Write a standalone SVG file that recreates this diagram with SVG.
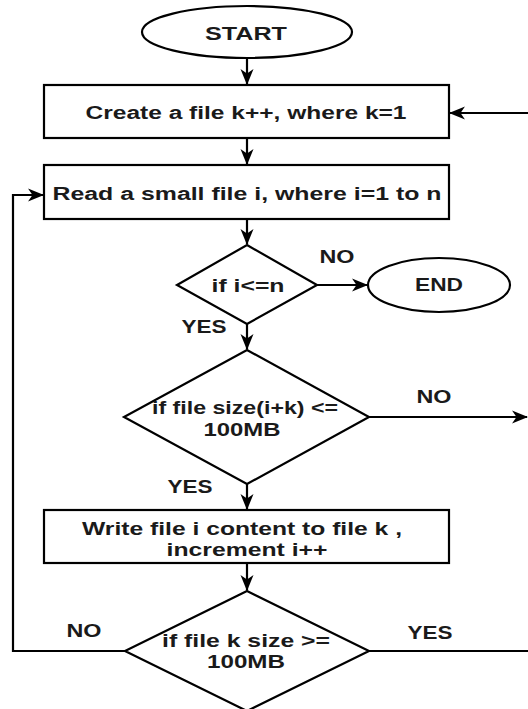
<svg xmlns="http://www.w3.org/2000/svg" width="528" height="709" viewBox="0 0 528 709">
<style>
.shape{fill:#fff;stroke:#000;stroke-width:2.2}
.edge{fill:none;stroke:#000;stroke-width:2.2}
text{font-family:"Liberation Sans",Arial,sans-serif;font-weight:bold;font-size:18px;fill:#1a1a1a;text-anchor:middle}
</style>
<defs>
<marker id="arr" markerUnits="userSpaceOnUse" markerWidth="16" markerHeight="16" viewBox="0 0 16 16" refX="15" refY="8" orient="auto">
<path d="M0,1.5 L16,8 L0,14.5 L4.5,8 z" fill="#000"/>
</marker>
</defs>
<rect width="528" height="709" fill="#fff"/>
<g id="connectors">
<path class="edge" d="M247,58 V84" marker-end="url(#arr)"/>
<path class="edge" d="M247,138 V164" marker-end="url(#arr)"/>
<path class="edge" d="M247,219 V244" marker-end="url(#arr)"/>
<path class="edge" d="M317,285 H367" marker-end="url(#arr)"/>
<path class="edge" d="M247,324 V349" marker-end="url(#arr)"/>
<path class="edge" d="M369,417 H527" marker-end="url(#arr)"/>
<path class="edge" d="M247,484 V509" marker-end="url(#arr)"/>
<path class="edge" d="M247,563 V590" marker-end="url(#arr)"/>
<path class="edge" d="M125,651 H13 V195 H43" marker-end="url(#arr)"/>
<path class="edge" d="M369,651 H530"/>
<path class="edge" d="M530,113 H450" marker-end="url(#arr)"/>
<text x="337" y="263" textLength="35" lengthAdjust="spacingAndGlyphs">NO</text>
<text x="204" y="333" textLength="45" lengthAdjust="spacingAndGlyphs">YES</text>
<text x="434" y="403" textLength="35" lengthAdjust="spacingAndGlyphs">NO</text>
<text x="190" y="493" textLength="45" lengthAdjust="spacingAndGlyphs">YES</text>
<text x="84" y="637" textLength="35" lengthAdjust="spacingAndGlyphs">NO</text>
<text x="430" y="639" textLength="45" lengthAdjust="spacingAndGlyphs">YES</text>
</g>
<g id="start">
<ellipse class="shape" cx="247" cy="32" rx="105" ry="26"/>
<text x="246" y="40" textLength="82" lengthAdjust="spacingAndGlyphs">START</text>
</g>
<g id="create">
<rect class="shape" x="44" y="85" width="405" height="53"/>
<text x="246" y="119" textLength="321" lengthAdjust="spacingAndGlyphs">Create a file k++, where k=1</text>
</g>
<g id="read">
<rect class="shape" x="44" y="165" width="405" height="54"/>
<text x="247" y="200" textLength="389" lengthAdjust="spacingAndGlyphs">Read a small file i, where i=1 to n</text>
</g>
<g id="cond1">
<path class="shape" d="M247,245 L317,285 L247,324 L177,285 Z"/>
<text x="248" y="292" textLength="73" lengthAdjust="spacingAndGlyphs">if i&lt;=n</text>
</g>
<g id="end">
<ellipse class="shape" cx="439" cy="285" rx="71" ry="27"/>
<text x="439" y="291" textLength="48" lengthAdjust="spacingAndGlyphs">END</text>
</g>
<g id="cond2">
<path class="shape" d="M247,350 L369,417 L247,484 L124,417 Z"/>
<text x="245" y="414" textLength="186" lengthAdjust="spacingAndGlyphs">if file size(i+k) &lt;=</text>
<text x="242" y="436" textLength="77" lengthAdjust="spacingAndGlyphs">100MB</text>
</g>
<g id="write">
<rect class="shape" x="44" y="510" width="405" height="53"/>
<text x="242" y="535" textLength="320" lengthAdjust="spacingAndGlyphs">Write file i content to file k ,</text>
<text x="247" y="556" textLength="161" lengthAdjust="spacingAndGlyphs">increment i++</text>
</g>
<g id="cond3">
<path class="shape" d="M247,591 L369,651 L247,711 L125,651 Z"/>
<text x="246" y="647" textLength="168" lengthAdjust="spacingAndGlyphs">if file k size &gt;=</text>
<text x="246" y="668" textLength="78" lengthAdjust="spacingAndGlyphs">100MB</text>
</g>
</svg>
